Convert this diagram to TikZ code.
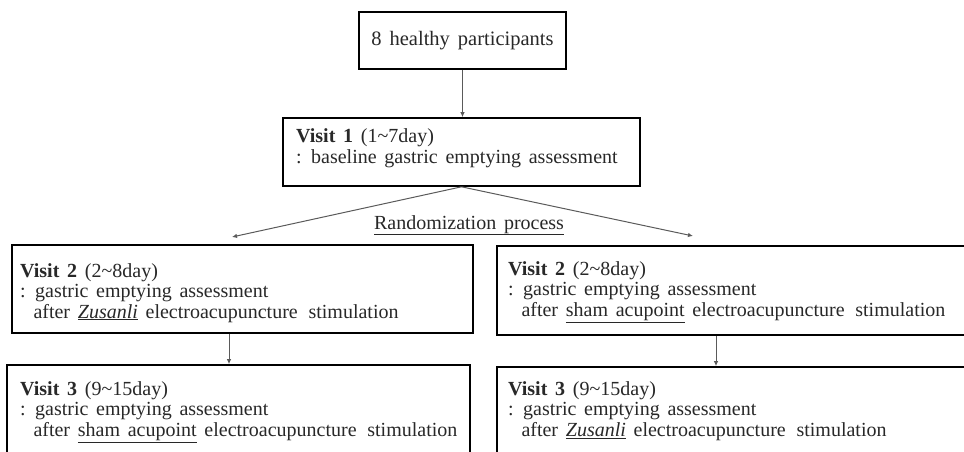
\documentclass[tikz,border=0pt]{standalone}
\usepackage{fontspec}
\setmainfont{Liberation Serif}[WordSpace=1.55]
\usetikzlibrary{arrows.meta}
\definecolor{txtc}{RGB}{40,40,40}
\definecolor{linec}{RGB}{90,90,90}
\newcommand{\wgap}{\hspace{3pt} }
\begin{document}
\begin{tikzpicture}[x=1pt,y=1pt,
  box/.style={draw=black, line width=1.6pt, inner sep=0pt, fill=white},
  txt/.style={inner sep=0pt, anchor=base west, text=txtc, font=\fontsize{20}{21}\selectfont},
  arr/.style={draw=linec, line width=1pt, -{Latex[length=5pt,width=4.5pt]}},
  ]
\useasboundingbox (0,0) rectangle (964,451);
% boxes
\node[box, minimum width=207pt, minimum height=57pt, text=txtc, font=\fontsize{20.5}{21}\selectfont] (A) at (462.5,410.5) {8 healthy participants};
\node[box, minimum width=357pt, minimum height=68pt] (v1) at (461.5,299) {};
\node[box, minimum width=461pt, minimum height=88pt] (v2l) at (242.5,162) {};
\node[box, minimum width=478pt, minimum height=89pt] (v2r) at (736,160.5) {};
\node[box, minimum width=463pt, minimum height=88pt] (v3l) at (238.5,42) {};
\node[box, minimum width=478pt, minimum height=88pt] (v3r) at (736,40) {};
% texts
\node[txt] (v1a) at (296,309) {\textbf{Visit 1} (1\textasciitilde 7day)};
\node[txt] (v1b) at (296,288) {: baseline gastric emptying assessment};
\node[txt] (v2la) at (20,174) {\textbf{Visit 2} (2\textasciitilde 8day)};
\node[txt] (v2lb) at (20,153.5) {: gastric emptying assessment};
\node[txt] (v2lc) at (20,133) {\phantom{:} after \underline{\textit{Zusanli}} electroacupuncture\wgap stimulation};
\node[txt] (v2ra) at (508,176) {\textbf{Visit 2} (2\textasciitilde 8day)};
\node[txt] (v2rb) at (508,155.5) {: gastric emptying assessment};
\node[txt] (v2rc) at (508,134.5) {\phantom{:} after \underline{sham acupoint} electroacupuncture\wgap stimulation};
\node[txt] (v3la) at (20,56) {\textbf{Visit 3} (9\textasciitilde 15day)};
\node[txt] (v3lb) at (20,35.5) {: gastric emptying assessment};
\node[txt] (v3lc) at (20,14.5) {\phantom{:} after \underline{sham acupoint} electroacupuncture\wgap stimulation};
\node[txt] (v3ra) at (508,56) {\textbf{Visit 3} (9\textasciitilde 15day)};
\node[txt] (v3rb) at (508,35.5) {: gastric emptying assessment};
\node[txt] (v3rc) at (508,14.5) {\phantom{:} after \underline{\textit{Zusanli}} electroacupuncture\wgap stimulation};
\node[txt, anchor=base] (rand) at (469,222) {\underline{Randomization process}};
% connectors
\coordinate (tipL) at (232,214);
\coordinate (tipR) at (693,215);
\coordinate (xl) at (229,0);
\coordinate (xr) at (716,0);
\draw[arr] (A.south) -- (A.south |- v1.north);
\draw[arr] (v1.south) -- (tipL);
\draw[arr] (v1.south) -- (tipR);
\draw[arr] (v2l.south -| xl) -- (v3l.north -| xl);
\draw[arr] (v2r.south -| xr) -- (v3r.north -| xr);
\end{tikzpicture}
\end{document}
